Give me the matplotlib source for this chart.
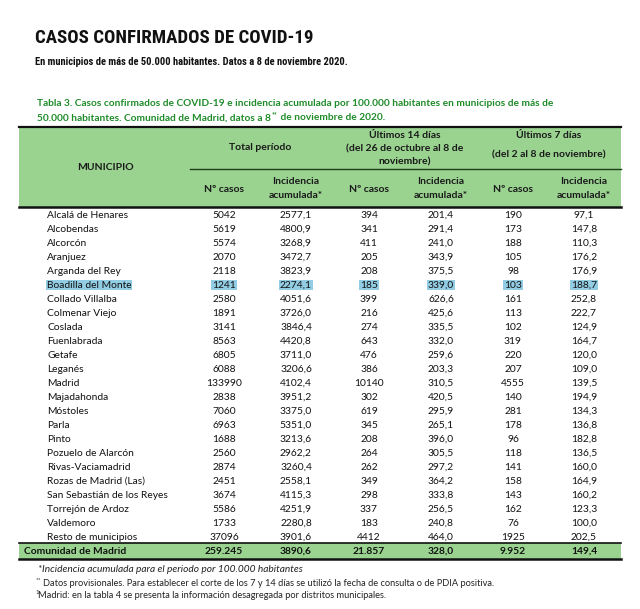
import matplotlib
matplotlib.use("Agg")
import matplotlib.pyplot as plt
from matplotlib.patches import Rectangle
from matplotlib import font_manager

# ---------------- data ----------------
municipios = ["Alcalá de Henares", "Alcobendas", "Alcorcón", "Aranjuez", "Arganda del Rey",
              "Boadilla del Monte", "Collado Villalba", "Colmenar Viejo", "Coslada", "Fuenlabrada",
              "Getafe", "Leganés", "Madrid", "Majadahonda", "Móstoles", "Parla", "Pinto",
              "Pozuelo de Alarcón", "Rivas-Vaciamadrid", "Rozas de Madrid (Las)",
              "San Sebastián de los Reyes", "Torrejón de Ardoz", "Valdemoro", "Resto de municipios"]
casos_total = [5042, 5619, 5574, 2070, 2118, 1241, 2580, 1891, 3141, 8563, 6805, 6088, 133990,
               2838, 7060, 6963, 1688, 2560, 2874, 2451, 3674, 5586, 1733, 37096]
ia_total = [2577.1, 4800.9, 3268.9, 3472.7, 3823.9, 2274.1, 4051.6, 3726.0, 3846.4, 4420.8,
            3711.0, 3206.6, 4102.4, 3951.2, 3375.0, 5351.0, 3213.6, 2962.2, 3260.4, 2558.1,
            4115.3, 4251.9, 2280.8, 3901.6]
casos_14d = [394, 341, 411, 205, 208, 185, 399, 216, 274, 643, 476, 386, 10140, 302, 619, 345,
             208, 264, 262, 349, 298, 337, 183, 4412]
ia_14d = [201.4, 291.4, 241.0, 343.9, 375.5, 339.0, 626.6, 425.6, 335.5, 332.0, 259.6, 203.3,
          310.5, 420.5, 295.9, 265.1, 396.0, 305.5, 297.2, 364.2, 333.8, 256.5, 240.8, 464.0]
casos_7d = [190, 173, 188, 105, 98, 103, 161, 113, 102, 319, 220, 207, 4555, 140, 281, 178, 96,
            118, 141, 158, 143, 162, 76, 1925]
ia_7d = [97.1, 147.8, 110.3, 176.2, 176.9, 188.7, 252.8, 222.7, 124.9, 164.7, 120.0, 109.0,
         139.5, 194.9, 134.3, 136.8, 182.8, 136.5, 160.0, 164.9, 160.2, 123.3, 100.0, 202.5]
total_label = "Comunidad de Madrid"
total_values = ["259.245", "3890,6", "21.857", "328,0", "9.952", "149,4"]
highlight = "Boadilla del Monte"

# ---------------- style ----------------
GREEN_FILL = "#9ad38f"
GREEN_TXT = "#1f8c2a"
BLUE_HL = "#93cde4"
BODY = ["Lato", "DejaVu Sans"]

# a narrow face for the headline if there is one, Roboto otherwise
installed = {f.name for f in font_manager.fontManager.ttflist}
cond_name = next((n for n in ["Liberation Sans Narrow", "Roboto Condensed", "Open Sans Condensed"]
                  if n in installed), None)
if cond_name:
    COND, title_fs, sub_fs = [cond_name, "DejaVu Sans"], 13.6, 7.6
else:
    COND, title_fs, sub_fs = ["Roboto", "DejaVu Sans"], 12, 6.6

fig = plt.figure(figsize=(6.4, 6.09), dpi=100)
ax = fig.add_axes([0, 0, 1, 1])
ax.set_xlim(0, 640)
ax.set_ylim(609, 0)
ax.axis("off")
renderer = fig.canvas.get_renderer()


def right_edge(t):
    # x of the right end of a text, in axes data units
    bb = t.get_window_extent(renderer=renderer)
    return ax.transData.inverted().transform((bb.x1, bb.y0))[0]


# titles
ax.text(35, 38, "CASOS CONFIRMADOS DE COVID-19", family=COND, weight="bold",
        fontsize=title_fs, va="center", ha="left", color="#111111")
ax.text(35, 62, "En municipios de más de 50.000 habitantes. Datos a 8 de noviembre 2020.",
        family=COND, weight="bold", fontsize=sub_fs, va="center", ha="left", color="#111111")

ckw = dict(family=BODY, weight="bold", fontsize=7.3, va="center", color=GREEN_TXT)
ax.text(37, 104, "Tabla 3. Casos confirmados de COVID-19 e incidencia acumulada por 100.000 "
        "habitantes en municipios de más de", **ckw)
t1 = ax.text(37, 118, "50.000 habitantes. Comunidad de Madrid, datos a 8", **ckw)
x1 = right_edge(t1)
t2 = ax.text(x1 + 0.5, 114.5, "**", family=BODY, weight="bold", fontsize=4.8, va="center",
             color=GREEN_TXT)
x2 = right_edge(t2)
ax.text(x2 + 0.5, 118, " de noviembre de 2020.", **ckw)

# table geometry
x_left, x_right = 19, 621
name_x = 47
col_x = [224, 296, 369, 441, 513, 584]
head_top, head_mid, head_bot = 127, 169, 207
row0, row_h = 215, 14.0
tot_top, tot_bot = 543, 559
fs = 7.4

# header
ax.add_patch(Rectangle((x_left, head_top), x_right - x_left, head_bot - head_top,
                       facecolor=GREEN_FILL, edgecolor="none"))
ax.plot([x_left, x_right], [head_top, head_top], color="#111111", lw=1.6)
ax.plot([x_left, x_right], [head_bot, head_bot], color="#111111", lw=1.8)
ax.plot([190, x_right], [head_mid, head_mid], color="#1d3d1d", lw=1.0)

hkw = dict(family=BODY, weight="bold", fontsize=7.5, ha="center", va="center", color="#1a1a1a")
ax.text(105, 167, "MUNICIPIO", **hkw)
ax.text((col_x[0] + col_x[1]) / 2, 148, "Total período", **hkw)
ax.text((col_x[2] + col_x[3]) / 2, 135, "Últimos 14 días", **hkw)
ax.text((col_x[2] + col_x[3]) / 2, 149, "(del 26 de octubre al 8 de", **hkw)
ax.text((col_x[2] + col_x[3]) / 2, 162, "noviembre)", **hkw)
ax.text((col_x[4] + col_x[5]) / 2, 135, "Últimos 7 días", **hkw)
ax.text((col_x[4] + col_x[5]) / 2, 155, "(del 2 al 8 de noviembre)", **hkw)
for i, cx in enumerate(col_x):
    if i % 2 == 0:
        ax.text(cx, 189, "Nº casos", **hkw)
    else:
        ax.text(cx, 182, "Incidencia", **hkw)
        ax.text(cx, 196, "acumulada*", **hkw)


def fmt_dec(v):
    return f"{v:.1f}".replace(".", ",")


# body rows
for i, name in enumerate(municipios):
    y = row0 + i * row_h
    bbox = None
    if name == highlight:
        bbox = dict(facecolor=BLUE_HL, edgecolor="none", pad=0.6)
    ax.text(name_x, y, name, family=BODY, fontsize=fs, ha="left", va="center",
            color="#111111", bbox=bbox)
    cells = [str(casos_total[i]), fmt_dec(ia_total[i]), str(casos_14d[i]),
             fmt_dec(ia_14d[i]), str(casos_7d[i]), fmt_dec(ia_7d[i])]
    for cx, s in zip(col_x, cells):
        ax.text(cx, y, s, family=BODY, fontsize=fs, ha="center", va="center",
                color="#111111", bbox=bbox)

# total row
ax.add_patch(Rectangle((x_left, tot_top), x_right - x_left, tot_bot - tot_top,
                       facecolor=GREEN_FILL, edgecolor="none"))
ax.plot([x_left, x_right], [tot_top, tot_top], color="#111111", lw=1.2)
ax.plot([x_left, x_right], [tot_bot, tot_bot], color="#111111", lw=1.8)
ty = (tot_top + tot_bot) / 2
ax.text(24, ty, total_label, family=BODY, weight="bold", fontsize=fs, ha="left",
        va="center", color="#111111")
for cx, s in zip(col_x, total_values):
    ax.text(cx, ty, s, family=BODY, weight="bold", fontsize=fs, ha="center",
            va="center", color="#111111")

# footnotes
nkw = dict(family=BODY, fontsize=6.7, ha="left", va="center", color="#222222")
skw = dict(family=BODY, fontsize=4.6, ha="left", va="center", color="#222222")
ax.text(38, 570, "*Incidencia acumulada para el periodo por 100.000 habitantes",
        family=BODY, style="italic", fontsize=7.3, ha="left", va="center", color="#222222")
ax.text(36, 580, "**", **skw)
ax.text(43, 583, "Datos provisionales. Para establecer el corte de los 7 y 14 días "
        "se utilizó la fecha de consulta o de PDIA positiva.", **nkw)
ax.text(35, 592, "1", **skw)
ax.text(38.5, 595, "Madrid: en la tabla 4 se presenta la información desagregada "
        "por distritos municipales.", **nkw)

fig.savefig("out.png", dpi=100, facecolor="white")
